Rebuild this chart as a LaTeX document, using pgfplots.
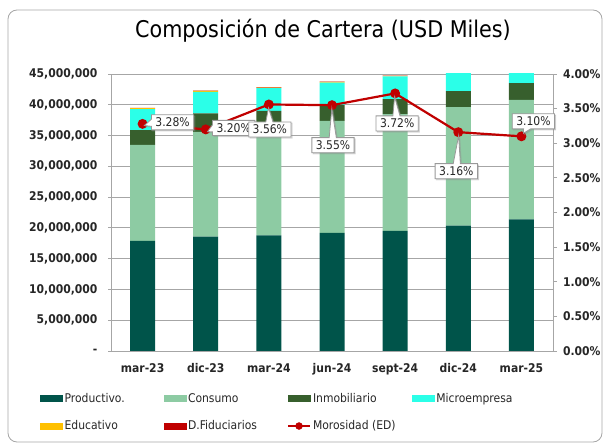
\documentclass[border=0pt]{standalone}
\usepackage{fontspec}
\setmainfont{DejaVu Sans Condensed}
\usepackage{pgfplots}
\pgfplotsset{compat=1.18}
\usepackage{pgfplotstable}
\usetikzlibrary{shapes.callouts,shadows}

\definecolor{prodc}{HTML}{00544A}
\definecolor{consc}{HTML}{8DCBA3}
\definecolor{inmoc}{HTML}{375F2D}
\definecolor{micrc}{HTML}{2BFFE8}
\definecolor{educc}{HTML}{FFC000}
\definecolor{fidc}{HTML}{C00000}
\definecolor{moroc}{HTML}{C00000}
\definecolor{axc}{HTML}{A6A6A6}
\definecolor{txc}{HTML}{262626}

\pgfplotsset{
  sw/.style={legend image code/.code={\fill[#1] (0pt,-3pt) rectangle (22pt,3pt);}},
  lw/.style={legend image code/.code={\draw[#1, line width=2pt] (0pt,0pt) -- (22pt,0pt); \fill[#1] (11pt,0pt) circle (3.5pt);}}
}

\pgfplotstableread{
x prod cons inmo micr educ fid
0 17900000 15600000 2400000 3400000 150000 50000
1 18600000 17000000 3000000 3500000 150000 50000
2 18800000 17700000 2500000 3700000 100000 50000
3 19200000 18200000 2600000 3600000 100000 50000
4 19500000 19000000 2400000 3700000 100000 50000
5 20350000 19250000 2600000 3800000 150000 50000
6 21400000 19400000 2700000 3900000 150000 50000
}\cartera

\pgfplotstableread{
x m dx dy ndx ndy
0 3.28 30 1.5 -9 -1
1 3.20 28 1.5 -7 -1
2 3.56 1 -25 -1 16
3 3.55 1 -40 -1 31
4 3.72 2 -30 -2 21
5 3.16 -2 -39 2 30
6 3.10 12 15 -5 -6
}\moro

\begin{document}
\begin{tikzpicture}[x=1pt,y=1pt]
\useasboundingbox (0,0) rectangle (605,444);
\draw[axc, rounded corners=9pt, line width=0.8pt] (8,2) rectangle (602,434);
\node[font=\fontsize{23}{26}\selectfont, text=black] at (323,413) {Composición de Cartera (USD Miles)};

\begin{axis}[
  at={(111pt,93pt)}, anchor=south west, scale only axis,
  width=442pt, height=277pt,
  ybar stacked, bar width=25pt,
  xmin=-0.5, xmax=6.5, ymin=0, ymax=45000000,
  xtick={0,1,2,3,4,5,6},
  xticklabels={mar-23,dic-23,mar-24,jun-24,sept-24,dic-24,mar-25},
  ytick={0,5000000,10000000,15000000,20000000,25000000,30000000,35000000,40000000,45000000},
  yticklabels={-,{5,000,000},{10,000,000},{15,000,000},{20,000,000},{25,000,000},{30,000,000},{35,000,000},{40,000,000},{45,000,000}},
  axis x line*=bottom, axis y line*=left,
  axis line style={axc, line width=0.8pt},
  ymajorgrids, grid style={axc, line width=0.8pt},
  major tick length=3pt, tick align=outside,
  ytick style={axc, line width=0.8pt},
  xtick style={draw=none},
  ticklabel style={font=\bfseries\fontsize{12}{14}\selectfont, text=txc},
  yticklabel style={xshift=-7pt},
  xticklabel style={yshift=-6pt},
  scaled y ticks=false,
]
\addplot[fill=prodc, draw=none] table[x=x, y=prod] {\cartera};
\addplot[fill=consc, draw=none] table[x=x, y=cons] {\cartera};
\addplot[fill=inmoc, draw=none] table[x=x, y=inmo] {\cartera};
\addplot[fill=micrc, draw=none] table[x=x, y=micr] {\cartera};
\addplot[fill=educc, draw=none] table[x=x, y=educ] {\cartera};
\addplot[fill=fidc, draw=none] table[x=x, y=fid] {\cartera};
\end{axis}

\begin{axis}[
  at={(111pt,93pt)}, anchor=south west, scale only axis,
  width=442pt, height=277pt,
  xmin=-0.5, xmax=6.5, ymin=0, ymax=4,
  axis x line=none, axis y line*=right,
  axis line style={axc, line width=0.8pt},
  ytick={0,0.5,1,1.5,2,2.5,3,3.5,4},
  yticklabels={0.00\%,0.50\%,1.00\%,1.50\%,2.00\%,2.50\%,3.00\%,3.50\%,4.00\%},
  major tick length=4pt, tick align=outside,
  ytick style={axc, line width=0.8pt},
  yticklabel style={font=\bfseries\fontsize{12}{14}\selectfont, text=txc, xshift=2.5pt},
  clip=false,
  legend columns=4,
  legend cell align=left,
  legend style={at={(axis description cs:-0.1606,-0.144)}, anchor=north west,
    draw=none, fill=none, inner sep=0pt,
    font=\fontsize{12}{14}\selectfont, text=txc, row sep=13pt},
]
\addlegendimage{sw=prodc}\addlegendentry{\makebox[97pt][l]{Productivo.}}
\addlegendimage{sw=consc}\addlegendentry{\makebox[97pt][l]{Consumo}}
\addlegendimage{sw=inmoc}\addlegendentry{\makebox[97pt][l]{Inmobiliario}}
\addlegendimage{sw=micrc}\addlegendentry{\makebox[97pt][l]{Microempresa}}
\addlegendimage{sw=educc}\addlegendentry{\makebox[97pt][l]{Educativo}}
\addlegendimage{sw=fidc}\addlegendentry{\makebox[97pt][l]{D.Fiduciarios}}
\addlegendimage{lw=moroc}\addlegendentry{\makebox[97pt][l]{Morosidad (ED)}}

\addplot[forget plot, moroc, line width=2.2pt, mark=*, mark size=3.8pt,
  mark options={fill=moroc, draw=moroc},
  point meta=y,
  visualization depends on={\thisrow{dx} \as \dx},
  visualization depends on={\thisrow{dy} \as \dy},
  visualization depends on={\thisrow{ndx} \as \ndx},
  visualization depends on={\thisrow{ndy} \as \ndy},
  nodes near coords={\pgfmathprintnumber[fixed,fixed zerofill,precision=2,assume math mode=true]{\pgfplotspointmeta}\%},
  nodes near coords style={rectangle callout, anchor=center, fill=white, draw=gray!80, line width=0.8pt,
    text=txc, font=\fontsize{12}{14}\selectfont, inner xsep=4pt, inner ysep=3pt,
    drop shadow={opacity=0.3, shadow xshift=1.2pt, shadow yshift=-1.2pt},
    callout pointer shorten=2pt,
    xshift=\dx pt, yshift=\dy pt, callout relative pointer={(\ndx pt,\ndy pt)}},
] table[x=x, y=m] {\moro};
\end{axis}
\end{tikzpicture}
\end{document}
